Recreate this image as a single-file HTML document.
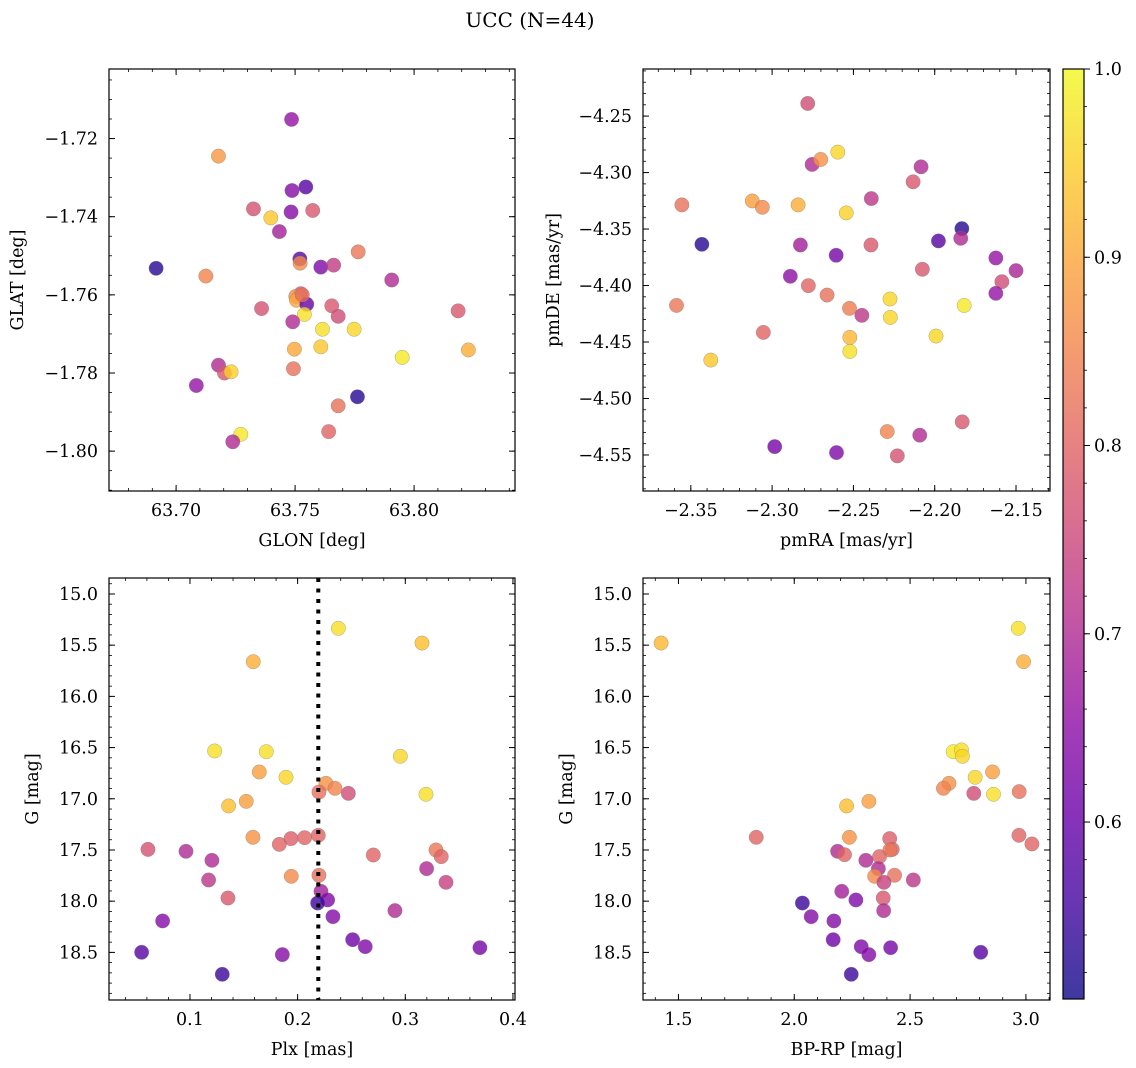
<!DOCTYPE html>
<html><head><meta charset="utf-8"><style>
html,body{margin:0;padding:0;background:#fff}
svg{display:block;font-family:"DejaVu Serif","Liberation Serif",serif}
</style></head><body>
<svg id="fig" width="1136" height="1068" viewBox="0 0 1136 1068">
<text x="530" y="27" text-anchor="middle" font-size="20">UCC (N=44)</text>
</svg>
<script>
// ---------- data ----------
const glon=[63.7485,63.7178,63.7487,63.7545,63.7325,63.7398,63.7574,63.7483,63.7434,63.6916,63.7520,63.7521,63.7608,63.7662,63.7765,63.7125,63.7906,63.7524,63.7503,63.7506,63.7549,63.7359,63.7654,63.7681,63.7539,63.7490,63.7615,63.7748,63.8185,63.7497,63.7608,63.8228,63.7950,63.7178,63.7203,63.7231,63.7493,63.7085,63.7762,63.7681,63.7641,63.7272,63.7238,63.7530];
const glat=[-1.7151,-1.7245,-1.7333,-1.7324,-1.7380,-1.7403,-1.7384,-1.7388,-1.7438,-1.7532,-1.7508,-1.7519,-1.7529,-1.7524,-1.7490,-1.7552,-1.7562,-1.7597,-1.7604,-1.7614,-1.7624,-1.7635,-1.7628,-1.7655,-1.7650,-1.7669,-1.7688,-1.7688,-1.7641,-1.7739,-1.7733,-1.7741,-1.7760,-1.7780,-1.7800,-1.7797,-1.7789,-1.7832,-1.7861,-1.7884,-1.7950,-1.7957,-1.7976,-1.7600];
const glatProb=[0.66,0.88,0.64,0.58,0.77,0.94,0.78,0.64,0.68,0.53,0.58,0.86,0.63,0.73,0.83,0.85,0.70,0.78,0.86,0.90,0.60,0.77,0.78,0.76,0.97,0.70,0.97,0.96,0.78,0.90,0.94,0.91,0.98,0.70,0.78,0.95,0.82,0.66,0.53,0.82,0.80,0.98,0.70,0.82];

const pmra=[-2.2781,-2.2754,-2.2701,-2.2596,-2.2084,-2.2133,-2.3555,-2.3122,-2.3060,-2.2840,-2.2544,-2.2390,-2.1833,-2.1840,-2.1977,-2.3432,-2.2826,-2.2606,-2.2392,-2.1624,-2.1500,-2.1587,-2.1624,-2.2076,-2.2888,-2.2777,-2.2662,-2.3588,-2.2524,-2.2448,-2.2275,-2.2273,-2.1819,-2.3054,-2.2522,-2.2522,-2.1992,-2.3377,-2.1831,-2.2292,-2.2092,-2.2984,-2.2604,-2.2230];
const pmde=[-4.2388,-4.2928,-4.2884,-4.2819,-4.2949,-4.3082,-4.3286,-4.3251,-4.3307,-4.3286,-4.3357,-4.3230,-4.3496,-4.3582,-4.3605,-4.3635,-4.3641,-4.3732,-4.3641,-4.3756,-4.3868,-4.3966,-4.4069,-4.3856,-4.3918,-4.4001,-4.4084,-4.4176,-4.4202,-4.4264,-4.4119,-4.4282,-4.4176,-4.4415,-4.4459,-4.4583,-4.4447,-4.4660,-4.5207,-4.5293,-4.5325,-4.5426,-4.5479,-4.5508];
const pmProb=[0.76,0.70,0.87,0.96,0.70,0.78,0.82,0.89,0.86,0.91,0.95,0.72,0.53,0.70,0.58,0.53,0.68,0.62,0.78,0.66,0.69,0.76,0.66,0.78,0.65,0.80,0.82,0.83,0.84,0.72,0.96,0.96,0.98,0.80,0.92,0.97,0.96,0.94,0.78,0.85,0.70,0.62,0.63,0.77];

const plx=[0.2378,0.3155,0.1588,0.1229,0.1709,0.2954,0.1644,0.1892,0.2263,0.2347,0.2198,0.2471,0.3192,0.1523,0.1359,0.1585,0.1830,0.1938,0.2065,0.2192,0.0610,0.0963,0.1204,0.2703,0.3285,0.3334,0.1173,0.1941,0.2198,0.3198,0.3378,0.1353,0.2217,0.2279,0.2186,0.2328,0.2904,0.0746,0.2511,0.2628,0.3693,0.0551,0.1858,0.1300];
const gPlx=[15.335,15.479,15.661,16.533,16.540,16.585,16.738,16.790,16.849,16.898,16.934,16.947,16.956,17.025,17.070,17.376,17.445,17.389,17.380,17.357,17.494,17.513,17.601,17.549,17.500,17.565,17.793,17.757,17.747,17.682,17.816,17.969,17.904,17.988,18.018,18.151,18.092,18.193,18.376,18.444,18.454,18.499,18.522,18.714];
const plxProb=[0.97,0.93,0.91,0.97,0.97,0.96,0.89,0.96,0.87,0.85,0.82,0.76,0.97,0.89,0.93,0.87,0.80,0.79,0.80,0.80,0.77,0.70,0.70,0.80,0.83,0.80,0.72,0.86,0.82,0.70,0.74,0.78,0.68,0.63,0.55,0.64,0.70,0.64,0.61,0.63,0.62,0.58,0.64,0.55];
const plxRef=[0.2192];

const bprp=[1.425,2.967,2.990,2.686,2.722,2.726,2.856,2.781,2.668,2.644,2.775,2.860,2.971,2.322,2.226,1.836,2.238,2.412,2.970,3.026,2.187,2.217,2.423,2.413,2.368,2.309,2.363,2.347,2.433,2.387,2.514,2.205,2.384,2.266,2.035,2.386,2.073,2.171,2.168,2.289,2.416,2.805,2.322,2.246];
const gCmd=[15.479,15.335,15.661,16.540,16.523,16.585,16.738,16.790,16.849,16.898,16.947,16.956,16.930,17.025,17.070,17.376,17.376,17.389,17.357,17.441,17.513,17.546,17.494,17.500,17.565,17.601,17.682,17.757,17.747,17.816,17.793,17.904,17.969,17.988,18.018,18.092,18.151,18.193,18.376,18.444,18.454,18.499,18.522,18.714];
const cmdProb=[0.92,0.97,0.91,0.98,0.97,0.96,0.89,0.96,0.87,0.85,0.76,0.97,0.82,0.89,0.93,0.80,0.87,0.79,0.80,0.80,0.70,0.80,0.80,0.83,0.80,0.70,0.70,0.86,0.82,0.74,0.72,0.68,0.78,0.63,0.55,0.70,0.64,0.64,0.61,0.63,0.62,0.58,0.64,0.55];

const glonTicks=[63.70,63.75,63.80];
const glatTicks=[-1.72,-1.74,-1.76,-1.78,-1.80];
const pmraTicks=[-2.35,-2.30,-2.25,-2.20,-2.15];
const pmdeTicks=[-4.25,-4.30,-4.35,-4.40,-4.45,-4.50,-4.55];
const plxTicks=[0.1,0.2,0.3,0.4];
const gTicks=[15.0,15.5,16.0,16.5,17.0,17.5,18.0,18.5];
const bprpTicks=[1.5,2.0,2.5,3.0];
const cbarTicks=[0.6,0.7,0.8,0.9,1.0];

// ---------- rendering ----------
const NS="http://www.w3.org/2000/svg";
const svg=document.getElementById('fig');
const VMIN=0.506,VMAX=1.0;
const FS=17.5;
const plasma=[[13,8,135],[65,4,157],[106,0,168],[143,13,164],[177,42,144],[204,71,120],[225,100,98],[242,132,75],[252,166,54],[252,206,37],[240,249,33]];
function cmap(v){let t=(v-VMIN)/(VMAX-VMIN);t=Math.max(0,Math.min(1,t));const f=t*10,i=Math.min(9,Math.floor(f)),r=f-i;const a=plasma[i],b=plasma[i+1];return 'rgb('+a.map((c,k)=>Math.round(c+(b[k]-c)*r)).join(',')+')';}
function mk(tag,attrs,parent){const e=document.createElementNS(NS,tag);for(const k in attrs)e.setAttribute(k,attrs[k]);(parent||svg).appendChild(e);return e;}
function lin(d0,d1,p0,p1){return v=>p0+(v-d0)/(d1-d0)*(p1-p0);}
function minorList(d0,d1,step){const out=[];const s=Math.ceil(Math.min(d0,d1)/step-1e-9),e=Math.floor(Math.max(d0,d1)/step+1e-9);for(let i=s;i<=e;i++)out.push(i*step);return out;}
function fmt(v,dec){return (v<0?'\u2212':'')+Math.abs(v).toFixed(dec);}

function panel(cfg){
  const g=mk('g',{});
  
  
  const {L,R,T,B}=cfg;
  const sx=lin(cfg.xd[0],cfg.xd[1],L,R), sy=lin(cfg.yd[0],cfg.yd[1],T,B);
  const pg=mk('g',{},g);
  
  
  for(let i=0;i<cfg.xs.length;i++){
    const c=mk('circle',{cx:sx(cfg.xs[i]),cy:sy(cfg.ys[i]),r:7.2,fill:cmap(cfg.cs[i]),'fill-opacity':0.8,stroke:'#777','stroke-opacity':0.6,'stroke-width':0.5},pg);
    
    
  }
  if(cfg.vline){for(const v of cfg.vline){const l=mk('line',{x1:sx(v),x2:sx(v),y1:T,y2:B,stroke:'#000','stroke-width':4,'stroke-dasharray':'4 6.5'},g);
    
    }}
  const fr=mk('rect',{x:L,y:T,width:R-L,height:B-T,fill:'none',stroke:'#000','stroke-width':1.2},g);
  
  
  for(const v of minorList(cfg.xd[0],cfg.xd[1],cfg.xminor)){const x=sx(v);mk('line',{x1:x,x2:x,y1:B,y2:B-3,stroke:'#000','stroke-width':0.8},g);mk('line',{x1:x,x2:x,y1:T,y2:T+3,stroke:'#000','stroke-width':0.8},g);}
  for(const v of minorList(cfg.yd[0],cfg.yd[1],cfg.yminor)){const y=sy(v);mk('line',{x1:L,x2:L+3,y1:y,y2:y,stroke:'#000','stroke-width':0.8},g);mk('line',{x1:R,x2:R-3,y1:y,y2:y,stroke:'#000','stroke-width':0.8},g);}
  for(const v of cfg.xt){const x=sx(v);mk('line',{x1:x,x2:x,y1:B,y2:B-6,stroke:'#000','stroke-width':1},g);mk('line',{x1:x,x2:x,y1:T,y2:T+6,stroke:'#000','stroke-width':1},g);
    const t=mk('text',{x:x,y:B+25,'text-anchor':'middle','font-size':FS},g);t.textContent=fmt(v,cfg.xdec);
    
    }
  for(const v of cfg.yt){const y=sy(v);mk('line',{x1:L,x2:L+6,y1:y,y2:y,stroke:'#000','stroke-width':1},g);mk('line',{x1:R,x2:R-6,y1:y,y2:y,stroke:'#000','stroke-width':1},g);
    const t=mk('text',{x:L-11,y:y+6,'text-anchor':'end','font-size':FS},g);t.textContent=fmt(v,cfg.ydec);
    
    }
  const xl=mk('text',{x:(L+R)/2,y:B+55,'text-anchor':'middle','font-size':FS},g);xl.textContent=cfg.xlabel;
  
  
  const yl=mk('text',{x:0,y:0,'text-anchor':'middle','font-size':FS,transform:'translate('+(cfg.ylx)+','+((T+B)/2)+') rotate(-90)'},g);yl.textContent=cfg.ylabel;
  
  
}

panel({name:'sky-position-panel',L:109,R:515,T:69,B:491,xd:[63.6718,63.8424],yd:[-1.7022,-1.8102],xs:glon,ys:glat,cs:glatProb,xt:glonTicks,yt:glatTicks,xdec:2,ydec:2,xminor:0.01,yminor:0.005,xlabel:'GLON [deg]',ylabel:'GLAT [deg]',ylx:23});
panel({name:'proper-motion-panel',L:643,R:1050,T:69,B:491,xd:[-2.3794,-2.1291],yd:[-4.2083,-4.5819],xs:pmra,ys:pmde,cs:pmProb,xt:pmraTicks,yt:pmdeTicks,xdec:2,ydec:2,xminor:0.01,yminor:0.01,xlabel:'pmRA [mas/yr]',ylabel:'pmDE [mas/yr]',ylx:559});
panel({name:'parallax-magnitude-panel',L:109,R:515,T:578,B:1000,xd:[0.0248,0.4019],yd:[14.844,18.965],xs:plx,ys:gPlx,cs:plxProb,xt:plxTicks,yt:gTicks,xdec:1,ydec:1,xminor:0.02,yminor:0.1,xlabel:'Plx [mas]',ylabel:'G [mag]',ylx:38,vline:plxRef});
panel({name:'color-magnitude-panel',L:643,R:1050,T:578,B:1000,xd:[1.347,3.104],yd:[14.844,18.965],xs:bprp,ys:gCmd,cs:cmdProb,xt:bprpTicks,yt:gTicks,xdec:1,ydec:1,xminor:0.1,yminor:0.1,xlabel:'BP-RP [mag]',ylabel:'G [mag]',ylx:572});

const cb=mk('g',{});


const defs=mk('defs',{},cb);
const gr=mk('linearGradient',{id:'pl',x1:0,y1:1,x2:0,y2:0},defs);
plasma.forEach((c,i)=>{mk('stop',{offset:(i/10),'stop-color':'rgb('+c.join(',')+')','stop-opacity':0.8},gr);});
const CT=69,CB=999,CL=1063,CR=1084;
const cy=lin(VMIN,VMAX,CB,CT);
mk('rect',{x:CL,y:CT,width:CR-CL,height:CB-CT,fill:'url(#pl)',stroke:'#000','stroke-width':1.2},cb);
for(const v of minorList(VMIN,VMAX,0.02)){const y=cy(v);mk('line',{x1:CR,x2:CR+3,y1:y,y2:y,stroke:'#000','stroke-width':0.8},cb);}
for(const v of cbarTicks){const y=cy(v);mk('line',{x1:CR,x2:CR+6,y1:y,y2:y,stroke:'#000','stroke-width':1},cb);
  const t=mk('text',{x:CR+10,y:y+6,'font-size':FS},cb);t.textContent=v.toFixed(1);
  
  }
</script>
</body></html>
